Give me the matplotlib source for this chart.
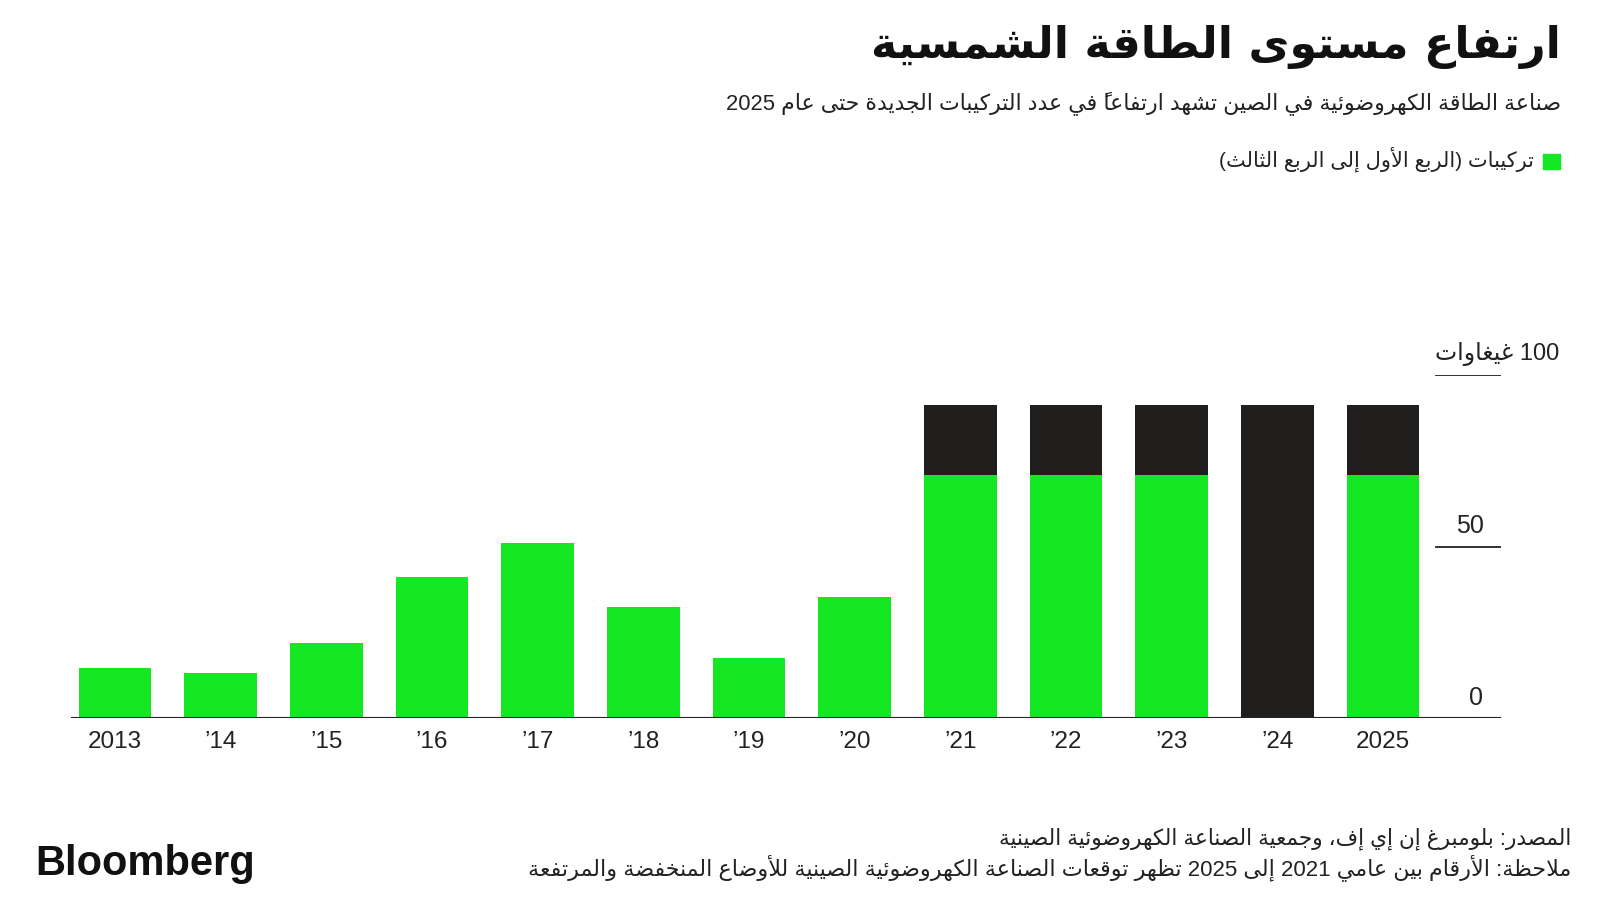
import matplotlib
matplotlib.use("Agg")
import matplotlib.pyplot as plt
from matplotlib.patches import Rectangle

# ---- data ----
years = ["2013", "’14", "’15", "’16", "’17", "’18", "’19", "’20",
         "’21", "’22", "’23", "’24", "2025"]
installs_q1_q3 = [14.7, 13.2, 22.0, 41.0, 51.0, 32.3, 17.4, 35.3,
                  70.7, 70.7, 70.7, 0.0, 70.7]
upper_range = [0, 0, 0, 0, 0, 0, 0, 0, 20.6, 20.6, 20.6, 91.3, 20.6]
y_ticks = [0, 50]

title = "ارتفاع مستوى الطاقة الشمسية"
subtitle = "صناعة الطاقة الكهروضوئية في الصين تشهد ارتفاعاً في عدد التركيبات الجديدة حتى عام 2025"
legend_label = "تركيبات (الربع الأول إلى الربع الثالث)"
unit_label = "100 غيغاوات"
source = "المصدر: بلومبرغ إن إي إف، وجمعية الصناعة الكهروضوئية الصينية"
note = "ملاحظة: الأرقام بين عامي 2021 إلى 2025 تظهر توقعات الصناعة الكهروضوئية الصينية للأوضاع المنخفضة والمرتفعة"

GREEN = "#14e823"
BLACK = "#201f1d"

# ---- tiny arabic shaper: matplotlib has no RTL / joining support ----
# isolated form in Presentation Forms-B, and number of forms (2 right-joining, 4 dual)
AR_FORMS = {
    'ء': (0xFE80, 1), 'آ': (0xFE81, 2), 'أ': (0xFE83, 2), 'ؤ': (0xFE85, 2),
    'إ': (0xFE87, 2), 'ئ': (0xFE89, 4), 'ا': (0xFE8D, 2), 'ب': (0xFE8F, 4),
    'ة': (0xFE93, 2), 'ت': (0xFE95, 4), 'ث': (0xFE99, 4), 'ج': (0xFE9D, 4),
    'ح': (0xFEA1, 4), 'خ': (0xFEA5, 4), 'د': (0xFEA9, 2), 'ذ': (0xFEAB, 2),
    'ر': (0xFEAD, 2), 'ز': (0xFEAF, 2), 'س': (0xFEB1, 4), 'ش': (0xFEB5, 4),
    'ص': (0xFEB9, 4), 'ض': (0xFEBD, 4), 'ط': (0xFEC1, 4), 'ظ': (0xFEC5, 4),
    'ع': (0xFEC9, 4), 'غ': (0xFECD, 4), 'ف': (0xFED1, 4), 'ق': (0xFED5, 4),
    'ك': (0xFED9, 4), 'ل': (0xFEDD, 4), 'م': (0xFEE1, 4), 'ن': (0xFEE5, 4),
    'ه': (0xFEE9, 4), 'و': (0xFEED, 2), 'ى': (0xFEEF, 2), 'ي': (0xFEF1, 4),
}
LAM_ALEF = {'آ': 0xFEF5, 'أ': 0xFEF7, 'إ': 0xFEF9, 'ا': 0xFEFB}
MARKS = set(chr(c) for c in range(0x064B, 0x0653))
MIRROR = {'(': ')', ')': '('}


def shape(text):
    units = []
    i = 0
    while i < len(text):
        ch = text[i]
        if ch in MARKS and units:
            units[-1]['marks'] += ch
        elif ch == 'ل' and i + 1 < len(text) and text[i + 1] in LAM_ALEF:
            units.append({'base': LAM_ALEF[text[i + 1]], 'n': 2, 'ch': ch, 'marks': ''})
            i += 1
        elif ch in AR_FORMS:
            b, n = AR_FORMS[ch]
            units.append({'base': b, 'n': n, 'ch': ch, 'marks': ''})
        else:
            units.append({'base': None, 'n': 0, 'ch': ch, 'marks': ''})
        i += 1
    out = []
    for k, u in enumerate(units):
        if u['base'] is None:
            out.append(u['ch'] + u['marks'])
            continue
        prev = units[k - 1] if k > 0 else None
        nxt = units[k + 1] if k + 1 < len(units) else None
        jp = prev is not None and prev['n'] == 4 and u['n'] >= 2
        jn = nxt is not None and u['n'] == 4 and nxt['n'] >= 2
        if u['n'] == 4:
            off = 3 if (jp and jn) else 1 if jp else 2 if jn else 0
        else:
            off = 1 if jp else 0
        # zero-width marks go first so they sit over the glyph drawn after them
        out.append(u['marks'] + chr(u['base'] + off))
    return out


def rtl(text):
    runs = []
    for c in shape(text):
        ltr = c[0].isascii() and c[0].isalnum()
        if ltr and runs and runs[-1][0]:
            runs[-1][1].append(c)
        else:
            runs.append([ltr, [c]])
    vis = ""
    for ltr, cs in reversed(runs):
        if ltr:
            vis += "".join(cs)
        else:
            vis += "".join(MIRROR.get(c, c) for c in reversed(cs))
    return vis


AR = ["Liberation Sans", "DejaVu Sans"]

# ---- figure ----
fig = plt.figure(figsize=(16, 9), dpi=100)
W, H = 1600, 900

# axes placed so that the baseline sits at y=718px and 100 at y=375px
ax_left, ax_right = 71, 1501
ax_bottom, ax_top = 718, 375
ax = fig.add_axes([ax_left / W, 1 - ax_bottom / H,
                   (ax_right - ax_left) / W, (ax_bottom - ax_top) / H])
x = list(range(len(years)))
step = 105.67
ax.set_xlim(-(115 - ax_left) / step, (ax_right - 115) / step)
ax.set_ylim(0, 100)

ax.bar(x, installs_q1_q3, width=0.69, color=GREEN, zorder=2)
ax.bar(x, upper_range, width=0.69, bottom=installs_q1_q3, color=BLACK, zorder=2)

for s in ax.spines.values():
    s.set_visible(False)
ax.set_yticks([])
ax.set_xticks(x)
ax.set_xticklabels(years, fontsize=17.5, family="Liberation Sans", color="#222222")
ax.tick_params(axis="x", length=0, pad=9)

# baseline and short grid stubs on the right
ax.axhline(0, color="#222222", lw=1.5, zorder=3)
stub = (1436 - ax_left) / (ax_right - ax_left)
for v in [50, 100]:
    ax.axhline(v, xmin=stub, xmax=1, color="#222222", lw=1.3)
tick_x = [12.88, 12.82]
for v, tx in zip(y_ticks, tick_x):
    ax.text(tx, v + 2.4, str(v), ha="center", va="bottom", fontsize=18,
            family="Liberation Sans", color="#222222")
ax.text(1559 / W, 1 - 354 / H, rtl(unit_label), transform=fig.transFigure,
        ha="right", va="center", fontsize=17, family=AR, color="#222222")

# ---- header ----
fig.text(1561 / W, 1 - 47 / H, rtl(title), ha="right", va="center",
         fontsize=32, fontweight="bold", family=["DejaVu Sans"], color="#111111")
fig.text(1561 / W, 1 - 104 / H, rtl(subtitle), ha="right", va="center",
         fontsize=15.8, family=AR, color="#222222")
fig.patches.append(Rectangle((1543 / W, 1 - 169 / H), 17 / W, 15 / H,
                             transform=fig.transFigure, color=GREEN))
fig.text(1534 / W, 1 - 159 / H, rtl(legend_label), ha="right", va="center",
         fontsize=15, family=AR, color="#222222")

# ---- footer ----
fig.text(1571 / W, 1 - 839 / H, rtl(source), ha="right", va="center",
         fontsize=15.6, family=AR, color="#222222")
fig.text(1571 / W, 1 - 868 / H, rtl(note), ha="right", va="center",
         fontsize=16, family=AR, color="#222222")
fig.text(35 / W, 1 - 864 / H, "Bloomberg", ha="left", va="center",
         fontsize=30, fontweight="bold", family="Liberation Sans", color="#111111")

fig.savefig("out.png", dpi=100, facecolor="white")
